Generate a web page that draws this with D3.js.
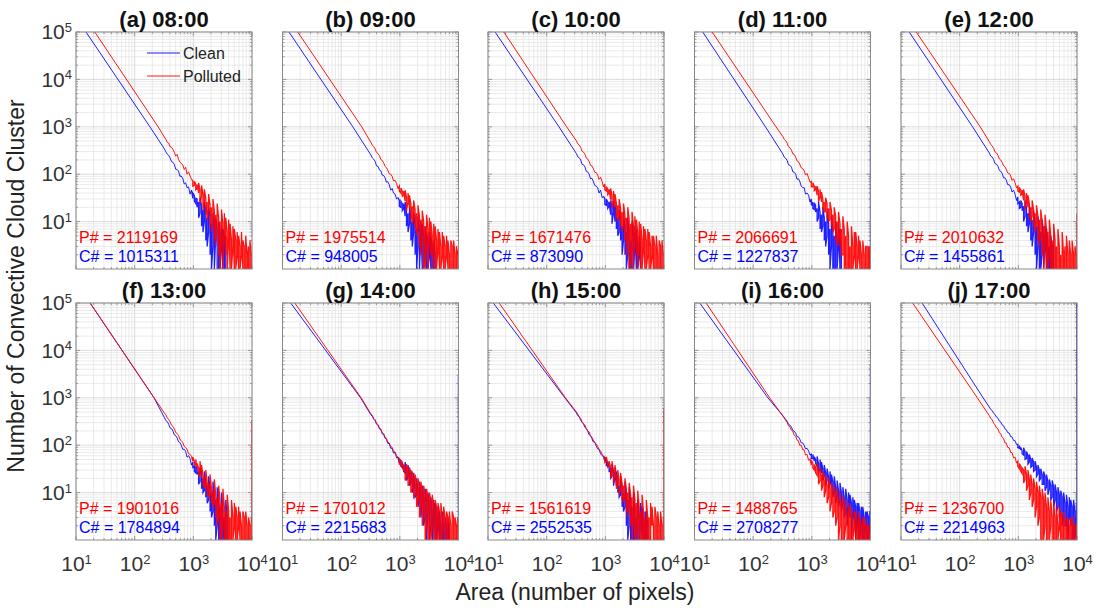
<!DOCTYPE html>
<html><head><meta charset="utf-8">
<script src="https://cdn.jsdelivr.net/npm/d3@7"></script>
<style>
body{margin:0;background:#fff;}
svg{font-family:Arial,"Liberation Sans",sans-serif;}
</style></head><body>
<svg id="c" width="1100" height="610"></svg>
<script>
// ---------------- data ----------------
const panelTitles = ["(a) 08:00","(b) 09:00","(c) 10:00","(d) 11:00","(e) 12:00",
                     "(f) 13:00","(g) 14:00","(h) 15:00","(i) 16:00","(j) 17:00"];
const pTotals = [2119169,1975514,1671476,2066691,2010632,1901016,1701012,1561619,1488765,1236700];
const cTotals = [1015311,948005,873090,1227837,1455861,1784894,2215683,2552535,2708277,2214963];

// area (pixels) where each curve crosses 1e5 and 1e3 clusters
const cleanTopArea = [14.8,12.9,13.2,13.8,13.8,17.4,13.8,12.3,12.3,22.9];
const pollTopArea  = [20.9,18.2,18.6,20.0,18.2,17.4,16.2,15.5,15.8,15.8];
const cleanMidArea = [182,158,162,162,166,214,214,204,178,251];
const pollMidArea  = [251,224,219,245,224,214,219,209,191,200];
const topCount = 1e5, midCount = 1e3;

// areas of the sampled tail bins
const tailArea = [320,340,360,380,400,425,450,475,500,530,560,590,620,660,700,740,780,830,880,930,
  980,1040,1100,1160,1230,1300,1380,1460,1540,1630,1720,1820,1930,2040,2160,2280,2410,2550,2700,2850,
  3020,3190,3380,3570,3780,4000,4230,4470,4730,5000,5290,5590,5910,6250,6610,6990,7390,7810,8260,8730,
  9230,9760];

// counts in those bins, clean (blue)
const cleanTail = [
 [345,296,262,250,222,184,178,160,128,126,116,90,92,82,62,66,52,54,38,46,31,36,24,30,26,15,22,18,10,16,12,6,13,9,3,10,5,7,1,6,4,1,5,1],
 [256,220,206,186,150,146,122,118,96,94,84,68,70,60,46,50,40,38,30,32,28,20,24,19,13,18,15,9,13,10,6,9,7,3,6,5,1,5,3,1,4,2,1,3,1,2],
 [274,232,222,200,162,158,142,114,112,100,80,82,72,58,56,52,40,46,32,34,30,22,26,21,14,20,16,10,14,12,6,11,8,4,7,6,2,6,4,1,5,3,1,3,2,1],
 [268,226,216,194,158,154,140,112,110,100,78,80,72,56,52,52,38,40,36,26,30,26,18,22,19,12,16,14,8,12,10,5,9,7,3,7,5,1,4,4,1,3],
 [280,240,228,202,168,162,146,120,116,104,84,84,76,60,60,54,42,46,38,28,33,26,20,24,21,13,19,15,9,13,11,6,10,8,3,7,6,2,5,4,1,4,3,1,3,1],
 [386,330,314,276,232,224,198,164,160,142,118,114,102,82,82,74,56,60,52,38,44,36,26,32,28,17,24,20,11,16,14,7,12,10,4,8,7,2,6,5,1,4,3,1,3],
 [440,408,350,326,278,262,220,212,174,168,140,134,110,108,86,86,68,70,54,56,42,44,34,36,26,30,21,24,16,19,12,15,9,12,7,10,5,8,3,7,4,5,2,4,3,1,3,2,1,2,1,2,1,2,1,1],
 [484,418,396,336,304,282,236,222,200,166,160,138,118,116,96,84,82,66,60,58,46,46,36,34,33,22,26,21,14,19,14,9,13,10,5,9,7,2,6,5,1,4,3,1,3,2,1,2,1,1,2],
 [422,372,352,318,276,264,240,204,198,180,152,150,136,112,112,100,84,86,76,62,64,52,46,50,36,40,32,26,32,22,26,18,21,16,13,17,11,13,9,11,7,10,6,8,4,7,5,3,6,4,2,5,3,1,4,3,1,3,2,1,3,2],
 [638,566,534,470,444,390,370,322,310,268,258,222,214,184,180,152,150,126,124,104,104,86,80,76,62,72,52,60,44,50,36,44,30,34,25,30,20,24,15,22,13,17,12,14,8,13,7,10,5,9,4,8,3,6,2,5,4,2,5,1,4,3]
];
// counts in those bins, polluted (red)
const pollTail = [
 [610,540,470,455,380,372,330,290,240,262,206,180,170,158,126,140,100,112,92,78,72,58,62,50,40,47,34,38,24,31,26,18,22,20,11,17,14,8,12,10,4,9,7,2,6,5,1,4,3,1,4,2,1,3,2,1,3,1,2,3,1,2],
 [472,410,380,340,288,272,246,204,196,174,146,138,124,102,100,90,72,74,64,50,56,40,44,36,27,33,26,19,24,21,12,18,15,8,13,11,5,10,8,3,7,6,2,5,4,1,4,3,1,3,2,1,3,2,1,2,1,3,1,2,1,2],
 [508,438,410,366,308,292,262,218,210,186,154,150,134,110,108,96,78,86,70,54,62,44,48,40,29,36,28,20,25,22,13,19,16,9,14,12,5,11,9,3,8,6,2,6,4,1,4,3,1,4,2,1,3,2,1,3,1,2,1,3,1,2],
 [625,540,505,452,380,360,320,268,262,230,190,184,164,136,132,118,96,104,84,68,70,54,56,48,36,44,34,26,30,26,16,24,19,11,17,14,7,13,10,4,9,7,2,7,5,1,5,3,1,3,2,1,3,2,1,2,1,2,1,3,1,1],
 [486,420,392,350,296,280,250,210,200,178,150,144,128,106,104,92,74,80,66,52,56,42,46,38,28,34,26,20,24,20,13,18,15,9,13,11,5,10,8,3,7,6,2,5,4,1,4,3,1,3,2,1,2,3,1,2,1,2,1,2,1,2],
 [482,436,380,346,312,264,248,222,186,176,160,132,126,114,94,90,82,66,64,58,46,46,42,32,33,30,21,24,22,14,17,16,9,12,11,6,9,8,3,7,6,2,5,4,1,4,3,1,3,2,1,3,2,1,2,1,3,1,2,1,2,1],
 [462,424,366,342,296,270,236,218,184,176,150,140,118,112,94,90,74,72,60,56,52,38,44,30,34,22,30,16,26,12,20,9,17,7,14,5,12,4,9,2,8,1,7,2,5,1,5,1,4,1,3,2,3,1,3,1,2,1,3,1,2,1],
 [505,452,396,368,316,282,262,224,200,190,158,146,132,112,106,94,82,76,64,60,54,46,42,36,34,28,26,20,22,15,18,12,15,14,8,12,10,5,9,8,3,7,6,2,5,4,1,4,3,1,3,3,1,2,2,1,3,1,2,1,2,1],
 [414,380,326,302,258,242,206,196,162,156,128,124,100,100,80,80,62,64,48,52,38,42,30,34,23,28,18,22,14,18,11,14,8,12,6,9,4,8,3,6,2,5,1,4,2,3,1,3,1,2,2,1,2,1,1,2,1,2,1,1,2,1],
 [420,366,340,290,270,230,220,182,176,146,140,112,112,90,88,70,70,54,56,42,46,32,36,25,30,19,24,14,19,10,15,7,12,5,10,3,8,1,7,2,5,1,4,2,3,1,3,1,2,2,1,3,1,2,1,1,2,1,2,1,1,2]
];
// second (opposite-extreme) count read in each tail bin from bin index 20 (area 980) on
const spreadStart = 20;
const cleanSpread = [
 [40,27,31,20,12,32,8,6,26,4,3,20,2,1,15,1,12,1,10,1,8,7,1,5],
 [21,27,17,24,26,8,6,20,4,3,16,2,1,13,1,10,9,1,8,6,1,6,5,1,4,1],
 [23,30,19,26,28,9,26,22,7,5,18,4,2,15,2,1,12,1,1,10,1,8,7,1,5,4],
 [22,19,25,16,10,26,7,6,20,4,3,16,2,1,13,1,1,10,1,9,7,1],
 [24,19,28,17,10,28,8,6,22,4,3,17,2,1,13,1,1,11,1,8,7,1,1,5,1,4],
 [34,28,35,24,15,34,12,10,28,8,6,22,4,3,17,2,1,13,1,1,10,1,1,7,1],
 [52,36,42,28,44,18,38,14,30,10,26,8,20,5,17,3,14,2,12,1,10,1,8,1,7,6,1,5,4,1,4,1,3,1,3,2],
 [56,37,45,27,20,40,14,34,28,10,8,22,5,4,17,2,1,13,1,1,10,1,1,7,1,6,5,1,4,4,1],
 [52,64,57,41,58,26,50,44,18,38,14,32,12,28,24,8,22,6,18,5,16,4,13,3,12,2,10,9,1,8,7,1,6,6,1,5,5,1,4,4,1,4],
 [89,98,89,66,88,50,74,40,64,34,54,28,46,22,38,18,32,15,28,11,24,9,19,7,18,5,15,4,13,3,11,2,10,2,9,1,8,7,1,7,1,6]
];
const pollSpread = [
 [56,71,47,61,66,24,58,18,48,14,11,38,8,6,30,4,3,24,2,1,18,1,15,12,1,11,9,1,8,7,1,6,5,1,6,4,1,5,1,1,4,1],
 [44,51,34,44,46,17,40,36,11,9,28,7,5,22,3,2,17,1,1,14,1,12,10,1,9,8,1,7,6,1,6,5,1,5,4,1,4,1,4,1,3,1],
 [47,55,37,48,50,19,44,38,12,10,30,8,6,24,4,2,20,1,1,16,1,13,11,1,10,9,1,8,7,1,7,6,1,5,5,1,5,1,4,1,4,1],
 [54,66,45,56,56,26,48,42,18,16,32,12,10,26,8,6,20,4,3,16,3,2,13,1,1,10,1,1,8,1,6,6,1,5,4,1,4,1,3,1,3,3],
 [44,53,36,46,48,18,40,36,12,10,28,8,6,22,4,3,18,2,1,14,1,1,11,1,1,9,1,1,7,1,1,6,1,1,5,1,4,1,4,1,3,1],
 [56,37,50,41,22,46,38,14,12,30,9,8,24,6,5,19,3,2,14,1,1,12,1,1,9,1,1,7,1,6,5,1,5,4,1,4,1,4,1,3,1,3],
 [40,48,33,39,18,40,14,34,10,28,8,24,5,20,3,17,2,14,1,12,1,10,1,9,1,7,1,6,1,6,1,5,1,4,1,4,1,4,1,3,1,3],
 [43,57,34,46,20,46,16,38,12,30,9,26,7,6,20,4,3,16,2,1,14,1,1,11,1,1,9,1,1,7,1,1,6,5,1,5,1,4,1,4,1,3],
 [48,33,39,26,42,15,34,11,28,8,24,6,20,4,16,3,14,2,12,1,10,1,8,1,7,1,6,1,5,1,4,4,1,4,3,1,3,1,3,2,1,2],
 [36,41,28,33,16,36,11,30,7,24,5,20,3,17,2,14,1,12,1,10,1,8,1,7,1,6,1,5,1,5,4,1,4,1,3,3,1,3,1,3,2,1]
];
// counts in the last (largest) bin at area 1e4 (0 = none)
const cleanLastBin = [0,0,0,500,0,0,3000,0,5000,200000];
const pollLastBin  = [0,0,0,0,15,340,0,600,0,0];
const lastBinArea = 1e4;

const xTickVals = [10,100,1000,10000];
const yTickVals = [10,100,1000,10000,100000];
const legendLabels = ["Clean","Polluted"];

// ---------------- drawing ----------------
const BLUE="#0000ff", RED="#ff0000";
const svg=d3.select("#c");
const W=176,H=237;
const colX=[76,282.5,488,694.5,901], rowY=[32,303];
const x=d3.scaleLog().domain([10,1e4]).range([0,W]);
const y=d3.scaleLog().domain([1,1e5]).range([H,0]);

const minorX=[], minorY=[];
[10,100,1000].forEach(k=>{for(let m=2;m<=9;m++) minorX.push(k*m);});
[1,10,100,1000,10000].forEach(k=>{for(let m=2;m<=9;m++) minorY.push(k*m);});

function expLabel(sel, exp){
  sel.text(null);
  sel.append("tspan").text("10");
  sel.append("tspan").attr("dy","-0.55em").attr("font-size","13px").text(exp);
}
// head: smooth part + sparse tail ; noisy: dense tail with the spread readings
function seriesParts(topA, midA, tail, spread){
  const head=[[topA,topCount],[midA,midCount]], noisy=[];
  tail.forEach((c,i)=>{
    if(i<spreadStart) head.push([tailArea[i],c]);
    if(i===spreadStart-1) noisy.push([tailArea[i],c]);
    if(i>=spreadStart){
      noisy.push([tailArea[i],c]);
      const s=spread[i-spreadStart];
      if(s!==undefined) noisy.push([tailArea[i],s]);
    }
  });
  return [head,noisy];
}

const line=d3.line().x(d=>x(d[0])).y(d=>y(d[1]));

panelTitles.forEach((title,p)=>{
  const col=p%5,row=Math.floor(p/5);
  const g=svg.append("g").attr("transform",`translate(${colX[col]},${rowY[row]})`);
  g.append("clipPath").attr("id","clip"+p).append("rect").attr("width",W).attr("height",H);
  g.append("rect").attr("width",W).attr("height",H).attr("fill","#fff");

  // minor grid
  g.selectAll(".mgx").data(minorX).join("line")
    .attr("x1",d=>x(d)).attr("x2",d=>x(d)).attr("y1",0).attr("y2",H)
    .attr("stroke","#e4e4e4").attr("stroke-width",0.8);
  g.selectAll(".mgy").data(minorY).join("line")
    .attr("y1",d=>y(d)).attr("y2",d=>y(d)).attr("x1",0).attr("x2",W)
    .attr("stroke","#e4e4e4").attr("stroke-width",0.8);
  // major grid
  g.selectAll(".Mgx").data(xTickVals).join("line")
    .attr("x1",d=>x(d)).attr("x2",d=>x(d)).attr("y1",0).attr("y2",H)
    .attr("stroke","#d2d2d2").attr("stroke-width",0.8);
  g.selectAll(".Mgy").data(yTickVals).join("line")
    .attr("y1",d=>y(d)).attr("y2",d=>y(d)).attr("x1",0).attr("x2",W)
    .attr("stroke","#d2d2d2").attr("stroke-width",0.8);

  // ticks (inside)
  const tk=g.append("g").attr("stroke","#777").attr("stroke-width",0.7);
  xTickVals.forEach(v=>{
    tk.append("line").attr("x1",x(v)).attr("x2",x(v)).attr("y1",H).attr("y2",H-4);
    tk.append("line").attr("x1",x(v)).attr("x2",x(v)).attr("y1",0).attr("y2",4);});
  minorX.forEach(v=>{
    tk.append("line").attr("x1",x(v)).attr("x2",x(v)).attr("y1",H).attr("y2",H-2);
    tk.append("line").attr("x1",x(v)).attr("x2",x(v)).attr("y1",0).attr("y2",2);});
  yTickVals.forEach(v=>{
    tk.append("line").attr("y1",y(v)).attr("y2",y(v)).attr("x1",0).attr("x2",4);
    tk.append("line").attr("y1",y(v)).attr("y2",y(v)).attr("x1",W).attr("x2",W-4);});
  minorY.forEach(v=>{
    tk.append("line").attr("y1",y(v)).attr("y2",y(v)).attr("x1",0).attr("x2",2);
    tk.append("line").attr("y1",y(v)).attr("y2",y(v)).attr("x1",W).attr("x2",W-2);});

  // data
  const plot=g.append("g").attr("clip-path",`url(#clip${p})`);
  const series=[
    {parts:seriesParts(cleanTopArea[p],cleanMidArea[p],cleanTail[p],cleanSpread[p]),color:BLUE,op:0.88,last:cleanLastBin[p]},
    {parts:seriesParts(pollTopArea[p],pollMidArea[p],pollTail[p],pollSpread[p]),color:RED,op:0.92,last:pollLastBin[p]}
  ];
  series.forEach(s=>{
    plot.append("path").datum(s.parts[0]).attr("d",line).attr("fill","none")
      .attr("stroke",s.color).attr("stroke-width",1.0).attr("stroke-opacity",s.op);
    plot.append("path").datum(s.parts[1]).attr("d",line).attr("fill","none")
      .attr("stroke",s.color).attr("stroke-width",1.3).attr("stroke-opacity",s.op);
    if(s.last>0) plot.append("path").datum([[lastBinArea,1],[lastBinArea,s.last]])
      .attr("d",line).attr("stroke",s.color).attr("stroke-width",1.4).attr("fill","none");
  });

  // frame
  g.append("rect").attr("width",W).attr("height",H).attr("fill","none")
    .attr("stroke","#8a8a8a").attr("stroke-width",1);

  // axes labels
  if(col===0){
    const ya=g.append("g").call(d3.axisLeft(y).tickValues(yTickVals).tickSize(0).tickPadding(4));
    ya.select(".domain").remove();
    ya.selectAll("text").attr("font-size","21px").attr("fill","#333")
      .attr("font-family","Arial, 'Liberation Sans', sans-serif")
      .each(function(d){expLabel(d3.select(this), Math.round(Math.log10(d)));});
  }
  if(row===1){
    const xa=g.append("g").attr("transform",`translate(0,${H})`)
      .call(d3.axisBottom(x).tickValues(xTickVals).tickSize(0).tickPadding(16));
    xa.select(".domain").remove();
    xa.selectAll("text").attr("font-size","21px").attr("fill","#333")
      .attr("font-family","Arial, 'Liberation Sans', sans-serif")
      .each(function(d){expLabel(d3.select(this), Math.round(Math.log10(d)));});
  }

  // title
  g.append("text").attr("x",W/2).attr("y",-5).attr("text-anchor","middle")
    .attr("font-size","22px").attr("font-weight","bold").attr("fill","#111").text(title);

  // totals
  g.append("text").attr("x",3).attr("y",211).attr("font-size","16px").attr("fill",RED)
    .text("P# = "+pTotals[p]);
  g.append("text").attr("x",3).attr("y",230).attr("font-size","16px").attr("fill",BLUE)
    .text("C# = "+cTotals[p]);

  // legend
  if(p===0){
    [BLUE,RED].forEach((c,i)=>{
      g.append("line").attr("x1",71).attr("x2",104).attr("y1",21+i*23).attr("y2",21+i*23)
        .attr("stroke",c).attr("stroke-width",0.9);
      g.append("text").attr("x",107).attr("y",27+i*23).attr("font-size","16px").attr("fill","#222")
        .text(legendLabels[i]);
    });
  }
});

svg.append("text").attr("transform","translate(24,286) rotate(-90)").attr("text-anchor","middle")
  .attr("font-size","23px").attr("fill","#222").text("Number of Convective Cloud Cluster");
svg.append("text").attr("x",575).attr("y",600).attr("text-anchor","middle")
  .attr("font-size","23px").attr("fill","#222").text("Area (number of pixels)");
</script>
</body></html>
